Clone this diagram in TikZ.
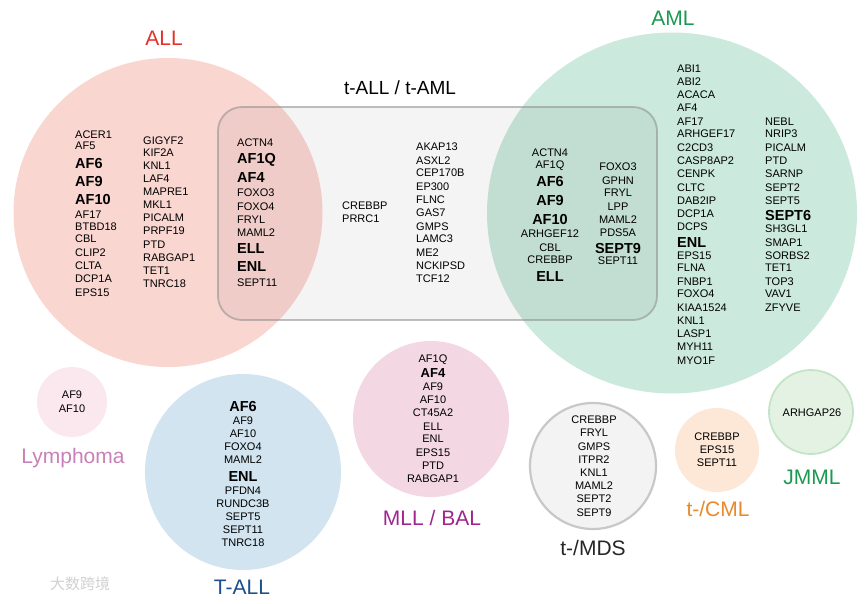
\documentclass[tikz,border=0pt]{standalone}
\usepackage{fontspec}
\usetikzlibrary{shapes.geometric}
\setmainfont{Liberation Sans}
\newfontfamily\cjkfont{Noto Sans CJK SC}
\definecolor{allfill}{RGB}{250,214,208}
\definecolor{amlfill}{RGB}{203,233,221}
\definecolor{tallfill}{RGB}{209,228,239}
\definecolor{mllfill}{RGB}{243,215,227}
\definecolor{lymfill}{RGB}{251,232,238}
\definecolor{cmlfill}{RGB}{253,231,214}
\definecolor{jmmlfill}{RGB}{228,242,228}
\definecolor{jmmlline}{RGB}{196,228,200}
\definecolor{mdsfill}{RGB}{243,243,243}
\definecolor{mdsline}{RGB}{200,200,200}
\definecolor{allred}{RGB}{226,50,43}
\definecolor{amlgreen}{RGB}{26,154,80}
\definecolor{lympink}{RGB}{200,128,184}
\definecolor{tallblue}{RGB}{30,78,140}
\definecolor{mllpurple}{RGB}{160,37,143}
\definecolor{cmlorange}{RGB}{232,137,42}
\tikzset{
  g/.style={font=\fontsize{11}{12}\selectfont, inner sep=0pt, text height=7.9pt, text depth=0pt},
  gb/.style={font=\fontsize{14.5}{16}\selectfont\bfseries, inner sep=0pt, text height=10.4pt, text depth=0pt},
  gbs/.style={font=\fontsize{13}{14}\selectfont\bfseries, inner sep=0pt, text height=9.3pt, text depth=0pt},
  grp/.style={font=\fontsize{21}{23}\selectfont, inner sep=0pt},
  blob/.style={circle, draw=none, inner sep=0pt},
}
\newcommand\gcol[4]{%
  \foreach \s/\t/\y [count=\i] in {#4} \node[\s,anchor=#2] (#1\i) at (#3,\y) {\t};}
\begin{document}
\begin{tikzpicture}[x=1pt,y=-1pt]
\useasboundingbox (0,0) rectangle (865,603);
\fill[white] (0,0) rectangle (865,603);
% circles
\node[blob, fill=allfill, minimum size=309pt] (cALL) at (168,212.5) {};
\node[ellipse, inner sep=0pt, fill=amlfill, minimum width=370pt, minimum height=361pt] (cAML) at (672,213) {};
\node[blob, fill=lymfill, minimum size=70pt] (cLym) at (72,402) {};
\node[blob, fill=tallfill, minimum size=196pt] (cTALL) at (243,472) {};
\node[blob, fill=mllfill, minimum size=156pt] (cMLL) at (431,419) {};
\node[blob, fill=mdsfill, draw=mdsline, line width=2.2pt, minimum size=126pt] (cMDS) at (593,466) {};
\node[blob, fill=cmlfill, minimum size=84pt] (cCML) at (717,450) {};
\node[blob, fill=jmmlfill, draw=jmmlline, line width=1.8pt, minimum size=84pt] (cJMML) at (811,412) {};
% t-ALL / t-AML box
\draw[rounded corners=24pt, fill=black, fill opacity=0.045, draw=black!45, draw opacity=0.55, line width=1.8pt]
  (218,107) rectangle (657,320);
% group labels
\node[grp, text=allred] (lALL) at (164,38) {ALL};
\node[grp, text=amlgreen] (lAML) at (673,18) {AML};
\node[grp, font=\fontsize{19}{21}\selectfont] (lT) at (400,88) {t-ALL / t-AML};
\node[grp, text=lympink] (lLym) at (73,458) {Lymphoma};
\node[grp, text=tallblue] (lTALL) at (242,587) {T-ALL};
\node[grp, text=mllpurple] (lMLL) at (432,518) {MLL / BAL};
\node[grp, text=black!85] (lMDS) at (593,548) {t-/MDS};
\node[grp, text=cmlorange] (lCML) at (718,509) {t-/CML};
\node[grp, text=amlgreen] (lJMML) at (812,477) {JMML};
% ALL
\gcol{allA}{west}{75}{g/ACER1/135, g/AF5/146, gb/AF6/163, gb/AF9/181, gb/AF10/199, g/AF17/215, g/BTBD18/227, g/CBL/239, g/CLIP2/253, g/CLTA/266, g/DCP1A/279, g/EPS15/293}
\gcol{allB}{west}{143}{g/GIGYF2/141, g/KIF2A/153, g/KNL1/166, g/LAF4/179, g/MAPRE1/192, g/MKL1/205, g/PICALM/218, g/PRPF19/231, g/PTD/245, g/RABGAP1/258, g/TET1/271, g/TNRC18/284}
% t-ALL / t-AML
\gcol{tA}{west}{237}{g/ACTN4/143, gb/AF1Q/158, gb/AF4/177, g/FOXO3/193, g/FOXO4/207, g/FRYL/220, g/MAML2/233, gb/ELL/248, gb/ENL/266, g/SEPT11/283}
\gcol{tB}{west}{342}{g/CREBBP/206, g/PRRC1/219}
\gcol{tC}{west}{416}{g/AKAP13/147, g/ASXL2/161, g/CEP170B/173, g/EP300/187, g/FLNC/200, g/GAS7/213, g/GMPS/227, g/LAMC3/239, g/ME2/253, g/NCKIPSD/266, g/TCF12/279}
\gcol{tD}{center}{550}{g/ACTN4/153, g/AF1Q/165, gb/AF6/181, gb/AF9/200, gb/AF10/219, g/ARHGEF12/234, g/CBL/248, g/CREBBP/260, gb/ELL/276}
\gcol{tE}{center}{618}{g/FOXO3/167, g/GPHN/181, g/FRYL/193, g/LPP/207, g/MAML2/220, g/PDS5A/233, gb/SEPT9/248, g/SEPT11/261}
% AML
\gcol{amlA}{west}{677}{g/ABI1/69, g/ABI2/82, g/ACACA/95, g/AF4/108, g/AF17/122, g/ARHGEF17/134, g/C2CD3/148, g/CASP8AP2/161, g/CENPK/174, g/CLTC/188, g/DAB2IP/201, g/DCP1A/214, g/DCPS/227, gb/ENL/242, g/EPS15/256, g/FLNA/268, g/FNBP1/282, g/FOXO4/294, g/KIAA1524/308, g/KNL1/321, g/LASP1/334, g/MYH11/347, g/MYO1F/361}
\gcol{amlB}{west}{765}{g/NEBL/122, g/NRIP3/134, g/PICALM/148, g/PTD/161, g/SARNP/174, g/SEPT2/188, g/SEPT5/201, gb/SEPT6/215, g/SH3GL1/229, g/SMAP1/243, g/SORBS2/256, g/TET1/268, g/TOP3/282, g/VAV1/294, g/ZFYVE/308}
% small groups
\gcol{lym}{center}{72}{g/AF9/395, g/AF10/409}
\gcol{tall}{center}{243}{gb/AF6/406, g/AF9/421, g/AF10/434, g/FOXO4/447, g/MAML2/460, gb/ENL/476, g/PFDN4/491, g/RUNDC3B/504, g/SEPT5/517, g/SEPT11/530, g/TNRC18/543}
\gcol{mll}{center}{433}{g/AF1Q/359, gbs/AF4/373, g/AF9/387, g/AF10/400, g/CT45A2/413, g/ELL/427, g/ENL/439, g/EPS15/453, g/PTD/466, g/RABGAP1/479}
\gcol{mds}{center}{594}{g/CREBBP/420, g/FRYL/433, g/GMPS/447, g/ITPR2/460, g/KNL1/473, g/MAML2/486, g/SEPT2/499, g/SEPT9/513}
\gcol{cml}{center}{717}{g/CREBBP/437, g/EPS15/450, g/SEPT11/463}
\node[g] (jmml1) at (812,413) {ARHGAP26};
% watermark
\node[font=\cjkfont\fontsize{15}{16}\selectfont, text=black!18, inner sep=0pt] (wm) at (80,584) {大数跨境};
\end{tikzpicture}
\end{document}
